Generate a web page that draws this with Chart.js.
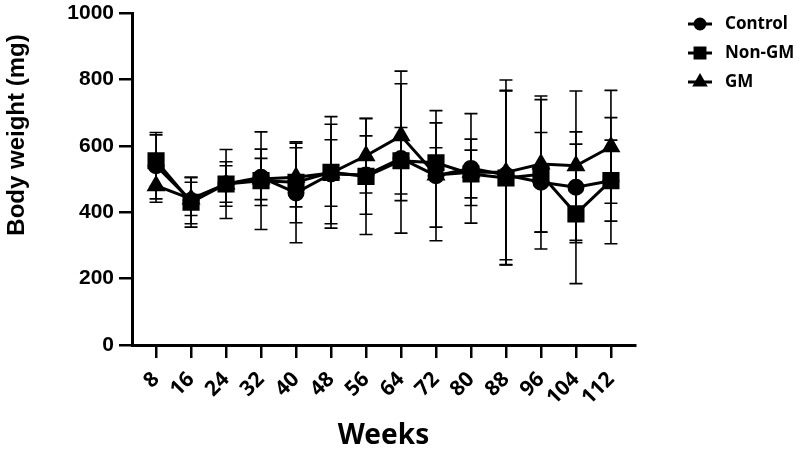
<!DOCTYPE html>
<html>
<head>
<meta charset="utf-8">
<script src="https://cdn.jsdelivr.net/npm/chart.js@4.4.0/dist/chart.umd.min.js"></script>
<style>
  html, body { margin: 0; padding: 0; background: #fff; }
  #wrap { width: 800px; height: 453px; position: relative; }
</style>
</head>
<body>
<div id="wrap"><canvas id="chart"></canvas></div>
<script>
// data
const weeks = [8, 16, 24, 32, 40, 48, 56, 64, 72, 80, 88, 96, 104, 112];
const controlMean = [540, 435, 485, 505, 458, 515, 512, 562, 510, 532, 512, 490, 475, 495];
const controlSD   = [100, 70, 67, 85, 150, 150, 118, 225, 196, 165, 255, 150, 167, 122];
const nonGmMean = [555, 430, 485, 495, 490, 520, 508, 555, 549, 515, 503, 514, 395, 495];
const nonGmSD   = [78, 75, 104, 147, 122, 168, 175, 100, 45, 72, 262, 225, 210, 190];
const gmMean = [480, 440, 485, 500, 505, 518, 570, 630, 512, 520, 520, 545, 540, 597];
const gmSD   = [50, 50, 55, 62, 89, 100, 112, 195, 157, 100, 278, 205, 225, 170];
const yTicks = [0, 200, 400, 600, 800, 1000];

const seriesNames = ['Control', 'Non-GM', 'GM'];
const yTitle = 'Body weight (mg)';

function toPoints(mean) {
    return weeks.map((w, i) => ({ x: w, y: mean[i] }));
}

// error bars, drawn through the y scale
const errorBars = {
    id: 'errorBars',
    beforeDatasetsDraw(chart) {
        const ctx = chart.ctx;
        const yScale = chart.scales.y;
        ctx.save();
        ctx.strokeStyle = '#000';
        ctx.lineWidth = 1.6;
        chart.data.datasets.forEach((ds, di) => {
            const meta = chart.getDatasetMeta(di);
            meta.data.forEach((pt, i) => {
                const m = ds.data[i].y, sd = ds.sd[i];
                const top = yScale.getPixelForValue(m + sd);
                const bot = yScale.getPixelForValue(m - sd);
                ctx.beginPath();
                ctx.moveTo(pt.x, top); ctx.lineTo(pt.x, bot);
                ctx.moveTo(pt.x - 6.5, top); ctx.lineTo(pt.x + 6.5, top);
                ctx.moveTo(pt.x - 6.5, bot); ctx.lineTo(pt.x + 6.5, bot);
                ctx.stroke();
            });
        });
        ctx.restore();
    }
};

// legend with line + marker on the right, and the y title (sits above centre in the original)
const sideText = {
    id: 'sideText',
    afterDraw(chart) {
        const ctx = chart.ctx;
        const rows = [24, 53, 82];
        ctx.save();
        chart.data.datasets.forEach((ds, i) => {
            const y = rows[i];
            ctx.strokeStyle = '#000';
            ctx.fillStyle = '#000';
            ctx.lineWidth = 3;
            ctx.beginPath();
            ctx.moveTo(688, y); ctx.lineTo(712, y);
            ctx.stroke();
            Chart.helpers.drawPoint(ctx, {
                pointStyle: ds.pointStyle,
                radius: ds.legendRadius,
                rotation: 0,
                borderWidth: 1
            }, 700, y);
            ctx.font = "bold 17px 'Noto Sans'";
            ctx.textBaseline = 'middle';
            ctx.textAlign = 'left';
            ctx.fillText(ds.label, 725, y);
        });

        ctx.translate(17, 135);
        ctx.rotate(-Math.PI / 2);
        ctx.font = "bold 24px 'Liberation Sans'";
        ctx.textAlign = 'center';
        ctx.textBaseline = 'middle';
        ctx.fillStyle = '#000';
        ctx.fillText(yTitle, 0, 0);
        ctx.restore();
    }
};

const baseSet = {
    borderColor: '#000',
    backgroundColor: '#000',
    pointBackgroundColor: '#000',
    pointBorderColor: '#000',
    borderWidth: 3,
    tension: 0
};

new Chart(document.getElementById('chart'), {
    type: 'line',
    data: {
        datasets: [
            Object.assign({}, baseSet, { label: seriesNames[0], data: toPoints(controlMean), sd: controlSD,
                pointStyle: 'circle', pointRadius: 7, legendRadius: 5 }),
            Object.assign({}, baseSet, { label: seriesNames[1], data: toPoints(nonGmMean), sd: nonGmSD,
                pointStyle: 'rect', pointRadius: 10, legendRadius: 7 }),
            Object.assign({}, baseSet, { label: seriesNames[2], data: toPoints(gmMean), sd: gmSD,
                pointStyle: 'triangle', pointRadius: 8, legendRadius: 6 })
        ]
    },
    options: {
        responsive: true,
        maintainAspectRatio: false,
        animation: false,
        layout: { padding: { top: 11, right: 165, left: 0, bottom: 0 } },
        plugins: {
            legend: { display: false },
            tooltip: { enabled: false }
        },
        scales: {
            x: {
                type: 'linear',
                min: 2.5,
                max: 117.5,
                afterBuildTicks(scale) {
                    scale.ticks = weeks.map(v => ({ value: v }));
                },
                afterFit(scale) { scale.height = 108; },
                border: { color: '#000', width: 3 },
                grid: { drawOnChartArea: false, drawTicks: true, tickLength: 13, color: '#000', lineWidth: 2.5 },
                ticks: {
                    autoSkip: false,
                    minRotation: 45,
                    maxRotation: 45,
                    padding: 9,
                    color: '#000',
                    font: { family: "'Noto Sans'", size: 21, weight: 'bold' },
                    callback: v => String(v)
                },
                title: {
                    display: true,
                    text: 'Weeks',
                    color: '#000',
                    padding: { top: 0, bottom: 0 },
                    font: { family: "'Noto Sans'", size: 28, weight: 'bold' }
                }
            },
            y: {
                min: 0,
                max: 1000,
                afterBuildTicks(scale) {
                    scale.ticks = yTicks.map(v => ({ value: v }));
                },
                afterFit(scale) {
                    scale.width = 132;
                    // let the layout padding decide the top edge, like the original
                    scale.paddingTop = 0;
                },
                border: { color: '#000', width: 3 },
                grid: { drawOnChartArea: false, drawTicks: true, tickLength: 13, color: '#000', lineWidth: 2.5 },
                ticks: {
                    padding: 5,
                    color: '#000',
                    font: { family: "'Liberation Sans'", size: 21, weight: 'bold' },
                    callback: v => String(v)
                }
            }
        }
    },
    plugins: [errorBars, sideText]
});
</script>
</body>
</html>
